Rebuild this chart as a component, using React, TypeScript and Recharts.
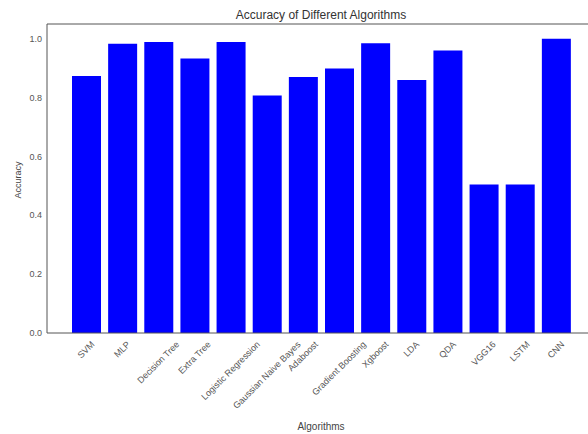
import { BarChart, Bar, XAxis, YAxis, ReferenceLine, Label } from 'recharts';

// Accuracy per algorithm.
const algorithms = [
  'SVM',
  'MLP',
  'Decision Tree',
  'Extra Tree',
  'Logistic Regression',
  'Gaussian Naive Bayes',
  'Adaboost',
  'Gradient Boosting',
  'Xgboost',
  'LDA',
  'QDA',
  'VGG16',
  'LSTM',
  'CNN',
];
const accuracy = [0.873, 0.983, 0.989, 0.933, 0.989, 0.807, 0.87, 0.899, 0.985, 0.86, 0.96, 0.505, 0.505, 1.0];
const yTicks = [0, 0.2, 0.4, 0.6, 0.8, 1.0];

const data = algorithms.map((name, i) => ({ name, accuracy: accuracy[i] }));

const FONT = "'Liberation Sans', Arial, sans-serif";
const TICK_SIZE = 9;

let canvasCtx: CanvasRenderingContext2D | null = null;
function textWidth(s: string): number {
  if (!canvasCtx) canvasCtx = document.createElement('canvas').getContext('2d');
  if (!canvasCtx) return s.length * TICK_SIZE * 0.5;
  canvasCtx.font = `${TICK_SIZE}px ${FONT}`;
  return canvasCtx.measureText(s).width;
}

// matplotlib-style rotation=45, ha='center': box centred under the tick
function RotatedTick(props: any) {
  const { x, y, payload } = props;
  const label = String(payload.value);
  const w = textWidth(label);
  const cy = y + 7 + ((w + TICK_SIZE * 0.9) * 0.707) / 2;
  return (
    <text
      x={x}
      y={cy}
      textAnchor="middle"
      dominantBaseline="central"
      transform={`rotate(-45 ${x} ${cy})`}
      fontSize={TICK_SIZE}
      fontFamily={FONT}
      fill="#555"
    >
      {label}
    </text>
  );
}

export default function App() {
  return (
    <div
      style={{
        position: 'absolute',
        left: 0,
        top: 0,
        width: 588,
        height: 434,
        overflow: 'hidden',
        background: '#fff',
      }}
    >
      <div
        style={{
          position: 'absolute',
          left: 0,
          top: 7,
          width: 642,
          textAlign: 'center',
          fontFamily: FONT,
          fontSize: 12,
          color: '#333',
          lineHeight: '16px',
        }}
      >
        Accuracy of Different Algorithms
      </div>
      <BarChart
        width={600}
        height={434}
        data={data}
        margin={{ top: 24, right: 5, bottom: 0, left: 0 }}
      >
        <XAxis
          dataKey="name"
          height={101}
          interval={0}
          padding={{ left: 21, right: 21 }}
          axisLine={{ stroke: '#555' }}
          tickLine={false}
          tickSize={0}
          tickMargin={0}
          tick={<RotatedTick />}
        >
          <Label
            content={(p: any) => {
              const vb = p.viewBox;
              return (
                <text
                  x={vb.x + vb.width / 2}
                  y={426}
                  textAnchor="middle"
                  dominantBaseline="central"
                  fontSize={10}
                  fontFamily={FONT}
                  fill="#444"
                >
                  Algorithms
                </text>
              );
            }}
          />
        </XAxis>
        <YAxis
          width={47}
          domain={[0, 1.05]}
          ticks={yTicks}
          tickFormatter={(v: number) => v.toFixed(1)}
          axisLine={{ stroke: '#555' }}
          tickLine={false}
          tickSize={0}
          tickMargin={5}
          tick={{ fontSize: TICK_SIZE, fontFamily: FONT, fill: '#555' }}
        >
          <Label
            content={() => (
              <text
                x={18}
                y={180}
                textAnchor="middle"
                dominantBaseline="central"
                transform="rotate(-90 18 180)"
                fontSize={9}
                fontFamily={FONT}
                fill="#444"
              >
                Accuracy
              </text>
            )}
          />
        </YAxis>
        <ReferenceLine y={1.05} stroke="#555" />
        <Bar dataKey="accuracy" fill="#0000ff" barSize={29} isAnimationActive={false} />
      </BarChart>
    </div>
  );
}
